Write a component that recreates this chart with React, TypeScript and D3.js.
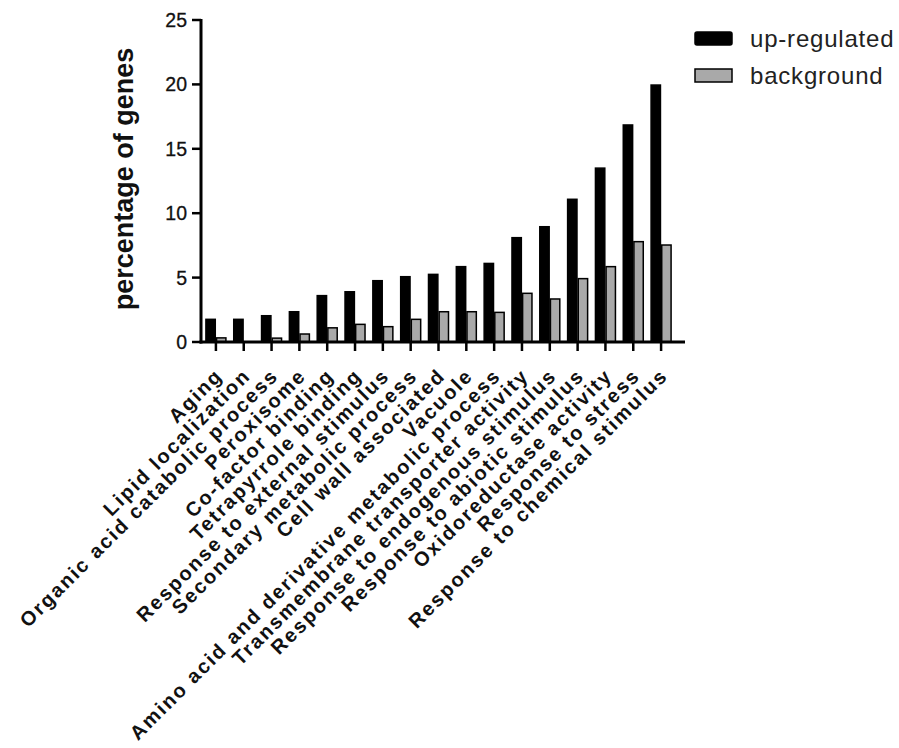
import React from "react";
import * as d3 from "d3";

const categories = [
  "Aging",
  "Lipid localization",
  "Organic acid catabolic process",
  "Peroxisome",
  "Co-factor binding",
  "Tetrapyrrole binding",
  "Response to external stimulus",
  "Secondary metabolic process",
  "Cell wall associated",
  "Vacuole",
  "Amino acid and derivative metabolic process",
  "Transmembrane transporter activity",
  "Response to endogenous stimulus",
  "Response to abiotic stimulus",
  "Oxidoreductase activity",
  "Response to stress",
  "Response to chemical stimulus",
];

const upRegulated = [1.76, 1.76, 2.04, 2.35, 3.6, 3.9, 4.76, 5.07, 5.25, 5.85, 6.1, 8.1, 8.95, 11.08, 13.5, 16.85, 19.95];
const background = [0.32, 0.0, 0.3, 0.62, 1.1, 1.37, 1.19, 1.76, 2.35, 2.35, 2.3, 3.78, 3.34, 4.92, 5.85, 7.79, 7.53];

const seriesNames = ["up-regulated", "background"];
const seriesColors = ["#000000", "#a9a9a9"];
const yTicks = [0, 5, 10, 15, 20, 25];

const W = 899;
const H = 748;
const axisX = 201;
const axisY = 342;
const topY = 20;
const axisRight = 685;

export default function App() {
  const x = d3.scaleBand<string>().domain(categories).range([202, 675]).padding(0);
  const x1 = d3.scaleBand<string>().domain(seriesNames).range([-10, 10]).paddingInner(0.12);
  const y = d3.scaleLinear().domain([0, 25]).range([axisY, topY]);
  const font = "Arial, 'Liberation Sans', sans-serif";
  const series = [upRegulated, background];

  return (
    <svg width={W} height={H} style={{ position: "absolute", left: 0, top: 0, background: "#fff" }}>
      <rect x={0} y={0} width={W} height={H} fill="#fff" />
      {/* bars */}
      {categories.map((c, i) => {
        const cx = (x(c) as number) + x.bandwidth() / 2;
        return (
          <g key={c}>
            {series.map((vals, s) => {
              const v = vals[i];
              if (v <= 0) return null;
              const bx = cx + (x1(seriesNames[s]) as number);
              const bw = x1.bandwidth();
              return (
                <rect
                  key={s}
                  x={bx}
                  y={y(v)}
                  width={bw}
                  height={axisY - y(v)}
                  fill={seriesColors[s]}
                  stroke="#000"
                  strokeWidth={1.5}
                />
              );
            })}
          </g>
        );
      })}
      {/* y axis */}
      <line x1={axisX} y1={topY - 1} x2={axisX} y2={axisY + 1.5} stroke="#000" strokeWidth={3} />
      {yTicks.map((t) => (
        <g key={t}>
          <line x1={axisX - 9} y1={y(t)} x2={axisX} y2={y(t)} stroke="#000" strokeWidth={2.5} />
          <text
            x={axisX - 14}
            y={y(t)}
            dy="0.36em"
            textAnchor="end"
            fontFamily={font}
            fontSize={19.5}
            fill="#111"
            stroke="#111"
            strokeWidth={0.3}
          >
            {t}
          </text>
        </g>
      ))}
      <text
        transform={`translate(133, ${(topY + axisY) / 2 - 2}) rotate(-90)`}
        textAnchor="middle"
        fontFamily={font}
        fontWeight="bold"
        fontSize={27}
        fill="#111"
      >
        percentage of genes
      </text>
      {/* x axis */}
      <line x1={axisX - 1.5} y1={axisY} x2={axisRight} y2={axisY} stroke="#000" strokeWidth={3} />
      {categories.map((c) => {
        const cx = (x(c) as number) + x.bandwidth() / 2;
        return (
          <g key={c}>
            <line x1={cx} y1={axisY} x2={cx} y2={axisY + 9} stroke="#000" strokeWidth={2.5} />
            <text
              transform={`translate(${cx + 8}, 377) rotate(-45)`}
              textAnchor="end"
              fontFamily={font}
              fontWeight="bold"
              fontSize={20}
              letterSpacing={2}
              fill="#111"
            >
              {c}
            </text>
          </g>
        );
      })}
      {/* legend */}
      {seriesNames.map((n, s) => (
        <g key={n}>
          <rect
            x={695}
            y={32 + s * 37}
            width={37}
            height={13}
            rx={s === 0 ? 2 : 0}
            fill={seriesColors[s]}
            stroke="#000"
            strokeWidth={1.5}
          />
          <text x={750} y={47 + s * 37} fontFamily={font} fontSize={24} letterSpacing={0.8} fill="#222">
            {n}
          </text>
        </g>
      ))}
    </svg>
  );
}
